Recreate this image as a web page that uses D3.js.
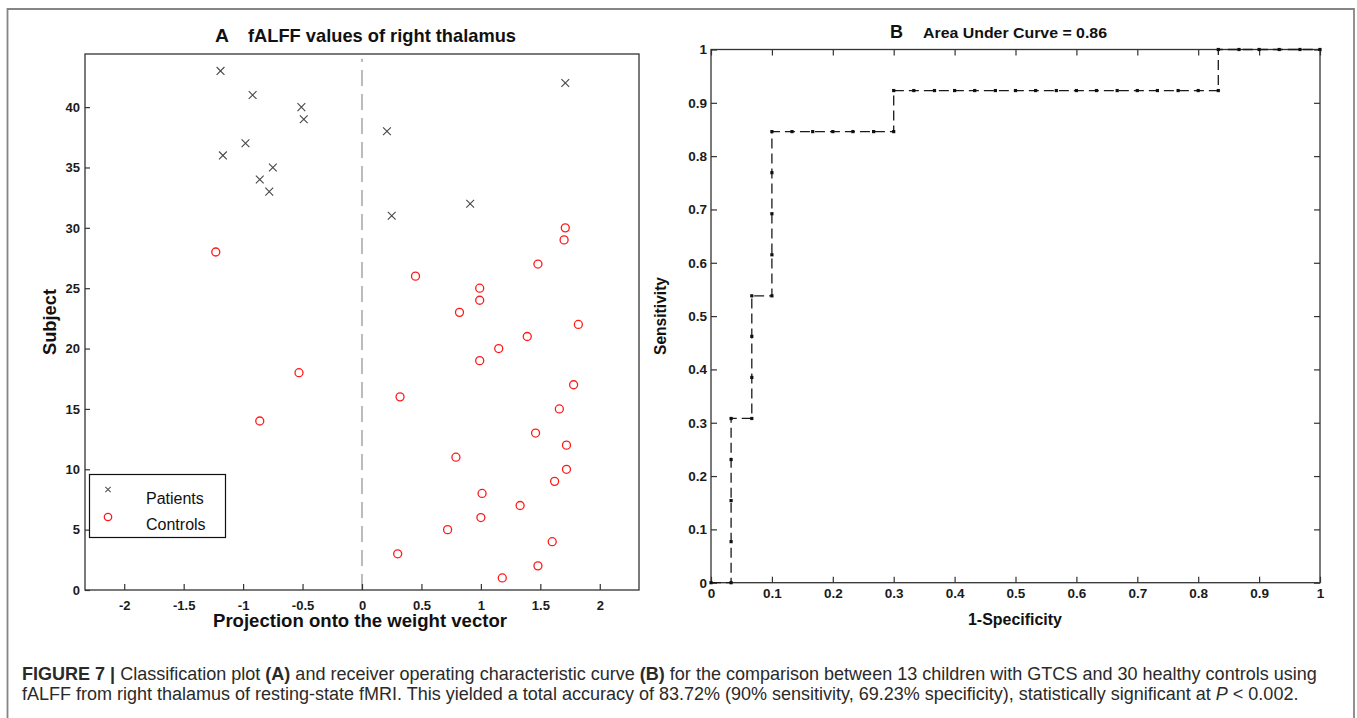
<!DOCTYPE html>
<html lang="en">
<head>
<meta charset="UTF-8">
<script src="https://d3js.org/d3.v7.min.js"></script>
<title>Figure 7</title>
<style>
  body { margin: 0; background: #fff; }
  svg { display: block; font-family: "Liberation Sans", Arial, sans-serif; }
</style>
</head>
<body>
<div id="container"></div>
<script>
// ---- data, panel A: projection onto weight vector per subject ----
var patientSubject = [43, 42, 41, 40, 39, 38, 37, 36, 35, 34, 33, 32, 31];
var patientProj    = [-1.19, 1.71, -0.92, -0.51, -0.49, 0.21, -0.98, -1.17, -0.75, -0.86, -0.78, 0.91, 0.25];

var controlSubject = [30, 29, 28, 27, 26, 25, 24, 23, 22, 21, 20, 19, 18, 17, 16,
                      15, 14, 13, 12, 11, 10, 9, 8, 7, 6, 5, 4, 3, 2, 1];
var controlProj    = [1.71, 1.70, -1.23, 1.48, 0.45, 0.99, 0.99, 0.82, 1.82, 1.39, 1.15, 0.99, -0.53, 1.78, 0.32,
                      1.66, -0.86, 1.46, 1.72, 0.79, 1.72, 1.62, 1.01, 1.33, 1.00, 0.72, 1.60, 0.30, 1.48, 1.18];

var xTicksA = [-2, -1.5, -1, -0.5, 0, 0.5, 1, 1.5, 2];
var yTicksA = [0, 5, 10, 15, 20, 25, 30, 35, 40];

// ---- data, panel B: ROC curve ----
var fpr = [0, 0.033, 0.033, 0.033, 0.033, 0.033, 0.067, 0.067, 0.067, 0.067,
           0.1, 0.1, 0.1, 0.1, 0.1, 0.133, 0.167, 0.2, 0.233, 0.267, 0.3,
           0.3, 0.333, 0.367, 0.4, 0.433, 0.467, 0.5, 0.533, 0.567, 0.6, 0.633, 0.667, 0.7, 0.733, 0.767, 0.8, 0.833,
           0.833, 0.867, 0.9, 0.933, 0.967, 1];
var tpr = [0, 0, 0.077, 0.154, 0.231, 0.308, 0.308, 0.385, 0.462, 0.538,
           0.538, 0.615, 0.692, 0.769, 0.846, 0.846, 0.846, 0.846, 0.846, 0.846, 0.846,
           0.923, 0.923, 0.923, 0.923, 0.923, 0.923, 0.923, 0.923, 0.923, 0.923, 0.923, 0.923, 0.923, 0.923, 0.923, 0.923, 0.923,
           1, 1, 1, 1, 1, 1];
var ticksB = [0, 0.1, 0.2, 0.3, 0.4, 0.5, 0.6, 0.7, 0.8, 0.9, 1];

var width = 1357, height = 718;

var svg = d3.select("#container").append("svg")
    .attr("width", width).attr("height", height);

// outer figure frame (open at bottom)
svg.append("path")
    .attr("d", "M7.5,718 V9 H1354 V718")
    .attr("fill", "none").attr("stroke", "#858585").attr("stroke-width", 1.8);

// ===================== panel A =====================
var xA = d3.scaleLinear().domain([-2.33, 2.33]).range([85, 639]);
var yA = d3.scaleLinear().domain([0, 44.4]).range([590, 54]);

var gA = svg.append("g");

// zero line
gA.append("line")
    .attr("x1", xA(0)).attr("x2", xA(0))
    .attr("y1", yA(0)).attr("y2", yA(44))
    .attr("stroke", "#8f8f8f").attr("stroke-width", 1.2)
    .attr("stroke-dasharray", "16,8");

// axes (ticks inside)
gA.append("g")
    .attr("transform", "translate(0," + yA(0) + ")")
    .call(d3.axisBottom(xA).tickValues(xTicksA).tickSize(-6).tickSizeOuter(0).tickPadding(11)
        .tickFormat(function (d) { return String(d); }))
    .call(function (g) { g.select(".domain").remove(); });

gA.append("g")
    .attr("transform", "translate(" + xA(-2.33) + ",0)")
    .call(d3.axisLeft(yA).tickValues(yTicksA).tickSize(-5).tickSizeOuter(0).tickPadding(5))
    .call(function (g) { g.select(".domain").remove(); });

gA.selectAll(".tick line").attr("stroke", "#333").attr("stroke-width", 1.2);
gA.selectAll(".tick text")
    .attr("font-size", 13).attr("font-weight", "bold").attr("fill", "#1b1b1b")
    .attr("font-family", "\"Liberation Sans\", Arial, sans-serif");

// box
gA.append("rect")
    .attr("x", 85).attr("y", 54).attr("width", 639 - 85).attr("height", 590 - 54)
    .attr("fill", "none").attr("stroke", "#333").attr("stroke-width", 1.3);

// patients: crosses
var cross = "M-3.9,-3.9L3.9,3.9M-3.9,3.9L3.9,-3.9";
gA.append("g").selectAll("path")
    .data(d3.range(patientSubject.length))
    .join("path")
    .attr("transform", function (i) { return "translate(" + xA(patientProj[i]) + "," + yA(patientSubject[i]) + ")"; })
    .attr("d", cross)
    .attr("fill", "none").attr("stroke", "#474747").attr("stroke-width", 1.1);

// controls: red circles
gA.append("g").selectAll("circle")
    .data(d3.range(controlSubject.length))
    .join("circle")
    .attr("cx", function (i) { return xA(controlProj[i]); })
    .attr("cy", function (i) { return yA(controlSubject[i]); })
    .attr("r", 4)
    .attr("fill", "none").attr("stroke", "#ff1a1a").attr("stroke-width", 1.3);

// legend
var leg = gA.append("g");
leg.append("rect")
    .attr("x", 89.5).attr("y", 474.5).attr("width", 136).attr("height", 63)
    .attr("fill", "#fff").attr("stroke", "#111").attr("stroke-width", 1.2);
leg.append("path")
    .attr("transform", "translate(108,489.5)")
    .attr("d", "M-2.7,-2.7L2.7,2.7M-2.7,2.7L2.7,-2.7")
    .attr("fill", "none").attr("stroke", "#555").attr("stroke-width", 1.1);
leg.append("circle")
    .attr("cx", 108).attr("cy", 517).attr("r", 3.7)
    .attr("fill", "none").attr("stroke", "#ff1a1a").attr("stroke-width", 1.3);
leg.append("text").attr("x", 146).attr("y", 504).attr("font-size", 16).attr("fill", "#111").text("Patients");
leg.append("text").attr("x", 146).attr("y", 529.5).attr("font-size", 16).attr("fill", "#111").text("Controls");

// titles and labels
gA.append("text").attr("x", 215).attr("y", 41.5)
    .attr("font-size", 19).attr("font-weight", "bold").attr("fill", "#111")
    .attr("textLength", 14).attr("lengthAdjust", "spacingAndGlyphs").text("A");
gA.append("text").attr("x", 248).attr("y", 41.5)
    .attr("font-size", 18.5).attr("font-weight", "bold").attr("fill", "#111")
    .attr("textLength", 268).attr("lengthAdjust", "spacingAndGlyphs").text("fALFF values of right thalamus");
gA.append("text").attr("x", 213).attr("y", 627)
    .attr("font-size", 17.5).attr("font-weight", "bold").attr("fill", "#111")
    .attr("textLength", 294).attr("lengthAdjust", "spacingAndGlyphs").text("Projection onto the weight vector");
gA.append("text")
    .attr("transform", "translate(56,355) rotate(-90)")
    .attr("font-size", 17.5).attr("font-weight", "bold").attr("fill", "#111")
    .attr("textLength", 66).attr("lengthAdjust", "spacingAndGlyphs").text("Subject");

// ===================== panel B =====================
var xB = d3.scaleLinear().domain([0, 1]).range([711, 1320]);
var yB = d3.scaleLinear().domain([0, 1]).range([582.7, 49.5]);
var fmt = function (d) { return String(+d.toFixed(1)); };

var gB = svg.append("g");

gB.append("g")
    .attr("transform", "translate(0," + yB(0) + ")")
    .call(d3.axisBottom(xB).tickValues(ticksB).tickSize(-6).tickSizeOuter(0).tickPadding(6).tickFormat(fmt))
    .call(function (g) { g.select(".domain").remove(); });
gB.append("g")
    .attr("transform", "translate(" + xB(0) + ",0)")
    .call(d3.axisLeft(yB).tickValues(ticksB).tickSize(-6).tickSizeOuter(0).tickPadding(4).tickFormat(fmt))
    .call(function (g) { g.select(".domain").remove(); });
gB.append("g")
    .attr("transform", "translate(0," + yB(1) + ")")
    .call(d3.axisTop(xB).tickValues(ticksB).tickSize(-6).tickSizeOuter(0).tickFormat(""))
    .call(function (g) { g.select(".domain").remove(); });
gB.append("g")
    .attr("transform", "translate(" + xB(1) + ",0)")
    .call(d3.axisRight(yB).tickValues(ticksB).tickSize(-6).tickSizeOuter(0).tickFormat(""))
    .call(function (g) { g.select(".domain").remove(); });

gB.selectAll(".tick line").attr("stroke", "#333").attr("stroke-width", 1.2);
gB.selectAll(".tick text")
    .attr("font-size", 13.5).attr("font-weight", "bold").attr("fill", "#1b1b1b")
    .attr("font-family", "\"Liberation Sans\", Arial, sans-serif");

gB.append("rect")
    .attr("x", xB(0)).attr("y", yB(1)).attr("width", xB(1) - xB(0)).attr("height", yB(0) - yB(1))
    .attr("fill", "none").attr("stroke", "#333").attr("stroke-width", 1.3);

// ROC curve
var roc = d3.range(fpr.length);
gB.append("path")
    .datum(roc)
    .attr("d", d3.line().x(function (i) { return xB(fpr[i]); }).y(function (i) { return yB(tpr[i]); }))
    .attr("fill", "none").attr("stroke", "#1a1a1a").attr("stroke-width", 1.3)
    .attr("stroke-dasharray", "10,5");
gB.append("g").selectAll("rect")
    .data(roc)
    .join("rect")
    .attr("x", function (i) { return xB(fpr[i]) - 1.6; })
    .attr("y", function (i) { return yB(tpr[i]) - 1.6; })
    .attr("width", 3.2).attr("height", 3.2)
    .attr("fill", "#111");

gB.append("text").attr("x", 890).attr("y", 38)
    .attr("font-size", 18).attr("font-weight", "bold").attr("fill", "#111")
    .attr("textLength", 13).attr("lengthAdjust", "spacingAndGlyphs").text("B");
gB.append("text").attr("x", 923).attr("y", 38)
    .attr("font-size", 15.5).attr("font-weight", "bold").attr("fill", "#111")
    .attr("textLength", 184).attr("lengthAdjust", "spacingAndGlyphs").text("Area Under Curve = 0.86");
gB.append("text").attr("x", 968).attr("y", 625)
    .attr("font-size", 16).attr("font-weight", "bold").attr("fill", "#111")
    .attr("textLength", 94).attr("lengthAdjust", "spacingAndGlyphs").text("1-Specificity");
gB.append("text")
    .attr("transform", "translate(666,355) rotate(-90)")
    .attr("font-size", 16).attr("font-weight", "bold").attr("fill", "#111")
    .attr("textLength", 78).attr("lengthAdjust", "spacingAndGlyphs").text("Sensitivity");

// ===================== caption =====================
var cap1 = [
    ["FIGURE 7 | ", "bold", "normal"],
    ["Classification plot ", "normal", "normal"],
    ["(A)", "bold", "normal"],
    [" and receiver operating characteristic curve ", "normal", "normal"],
    ["(B)", "bold", "normal"],
    [" for the comparison between 13 children with GTCS and 30 healthy controls using", "normal", "normal"]
];
var cap2 = [
    ["fALFF from right thalamus of resting-state fMRI. This yielded a total accuracy of 83.72% (90% sensitivity, 69.23% specificity), statistically significant at ", "normal", "normal"],
    ["P", "normal", "italic"],
    [" < 0.002.", "normal", "normal"]
];

function captionLine(parts, y, target) {
    var t = svg.append("text").attr("x", 22).attr("y", y)
        .attr("font-size", 17).attr("fill", "#2a2a2a");
    t.selectAll("tspan").data(parts).join("tspan")
        .attr("font-weight", function (d) { return d[1]; })
        .attr("font-style", function (d) { return d[2]; })
        .text(function (d) { return d[0]; });
    var w = t.node().getComputedTextLength();
    t.attr("font-size", 17 * target / w);
}
captionLine(cap1, 680, 1296);
captionLine(cap2, 700, 1277);
</script>
</body>
</html>
